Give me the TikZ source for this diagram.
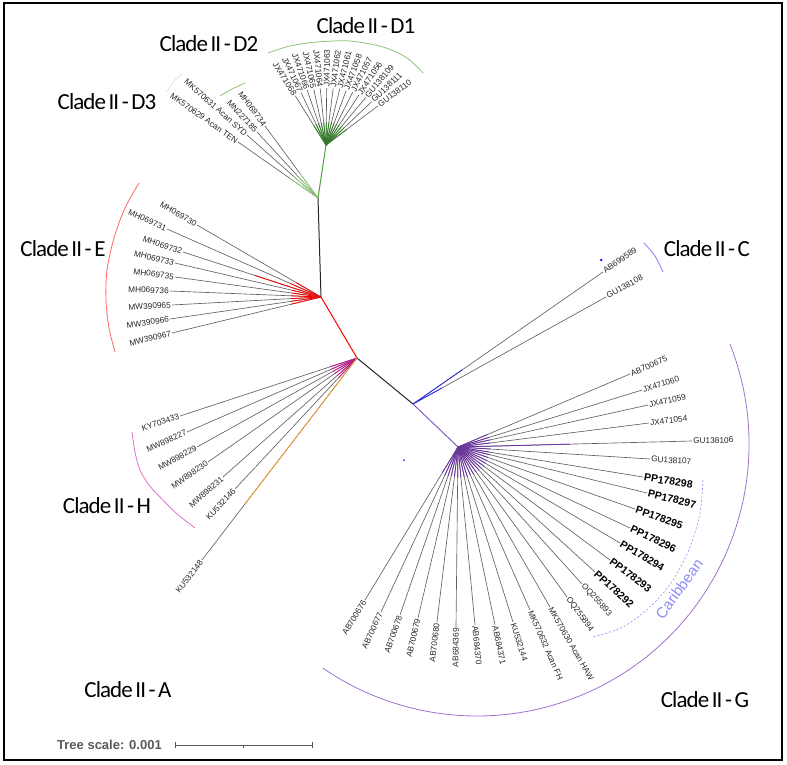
\documentclass[tikz,border=0pt]{standalone}
\usepackage{fontspec}
\setmainfont{Liberation Sans}
\newfontfamily\cladefont[LetterSpace=-4.0, WordSpace=0.6]{Carlito}
\usetikzlibrary{calc}

\definecolor{cD1}{HTML}{2F7D21}
\definecolor{cDstem}{HTML}{4E9E3C}
\definecolor{cDfan}{HTML}{9BD38A}
\definecolor{cDarc}{HTML}{8CC47A}
\definecolor{cDfaint}{HTML}{D5EAD0}
\definecolor{cE}{HTML}{FF0000}
\definecolor{cEarc}{HTML}{FF6666}
\definecolor{cH}{HTML}{C7158C}
\definecolor{cHarc}{HTML}{E070C8}
\definecolor{cA}{HTML}{F0A030}
\definecolor{cC}{HTML}{2A2AF0}
\definecolor{cCarc}{HTML}{8080FF}
\definecolor{cG}{HTML}{6B2FA8}
\definecolor{cGstem}{HTML}{8A5CC8}
\definecolor{cGarc}{HTML}{A070D0}
\definecolor{carib}{HTML}{8C8CF5}

\newcommand{\ppbold}[1]{{\fontsize{10.5}{12}\selectfont\bfseries\color{black}#1}}

% one leaf: hub, tip, colour style, coloured fraction, label
\newcommand{\leaf}[5]{%
  \pgfmathanglebetweenpoints{\pgfpointanchor{#1}{center}}{\pgfpointanchor{#2}{center}}%
  \let\leafang\pgfmathresult
  \pgfmathsetmacro\leafcos{cos(\leafang)}%
  \draw[branch] (#1) -- (#2);
  \draw[#3] (#1) -- ($(#1)!#4!(#2)$);
  \ifdim\leafcos pt<0pt
    \node[tiplab, rotate=\leafang+180, anchor=east] (#2l) at (#2) {#5};
  \else
    \node[tiplab, rotate=\leafang, anchor=west] (#2l) at (#2) {#5};
  \fi}

\begin{document}
\begin{tikzpicture}[x=1pt, y=-1pt,
    branch/.style={draw=black!62, line width=0.65pt},
    tiplab/.style={font=\fontsize{8.3}{9}\selectfont, text=black!85, inner sep=1pt},
    clade/.style={font=\cladefont\fontsize{23}{26}\selectfont, text=black},
    fanD1/.style={draw=cD1, line width=0.8pt},
    fanD/.style={draw=cDfan, line width=0.8pt},
    fanE/.style={draw=cE, line width=0.8pt},
    fanH/.style={draw=cH, line width=0.8pt},
    fanA/.style={draw=cA, line width=0.8pt},
    fanC/.style={draw=cC, line width=0.8pt},
    fanG/.style={draw=cG, line width=0.8pt},
    cladearc/.style={line width=0.8pt}]
\useasboundingbox (0,0) rectangle (787,764);
\draw[line width=2pt] (4,3) rectangle (782,760);

% inner nodes
\coordinate (nD) at (318,198);
\coordinate (nDa) at (326,145);
\coordinate (nE) at (321,297);
\coordinate (nH) at (357,358);
\coordinate (nC) at (413,404);
\coordinate (nG) at (458,447);

\draw[draw=cDstem, line width=1pt] (nD) -- (nDa);
\draw[draw=black!85, line width=1pt] (nD) -- (nE);
\draw[draw=cE, line width=1pt] (nE) -- (nH);
\draw[draw=black!85, line width=1pt] (nH) -- (nC);
\draw[draw=cGstem, line width=1pt] (nC) -- (nG);

% clade II-D1
\foreach \lab/\r [count=\i] in {JX471068/58, JX471067/58, JX471066/58, JX471065/57,
    JX471064/57, JX471063/57, JX471062/57, JX471061/58, JX471058/58, JX471057/59,
    JX471056/60, GU138109/62, GU138111/63, GU138110/65}{
  \pgfmathsetmacro\a{122-6.54*(\i-1)}
  \coordinate (d\i) at ($(nDa)+(\a:\r pt)$);
  \leaf{nDa}{d\i}{fanD1}{.4}{\lab}
}

% clades II-D2 and II-D3
\foreach \tx/\ty/\lab [count=\i] in {265/126/MH069734, 257/132/MN227185,
    247/135/MK570631 Acan SYD, 238/142/MK570629 Acan TEN}{
  \coordinate (dd\i) at (\tx,\ty);
  \leaf{nD}{dd\i}{fanD}{.35}{\lab}
}

% clade II-E
\foreach \tx/\ty/\f/\lab [count=\i] in {197/225/.2/MH069730, 167/229/.2/MH069731,
    183/252/.48/MH069732, 175/263/.2/MH069733, 175/277/.2/MH069735,
    170/291/.2/MH069736, 172/305/.2/MW390965, 170/319/.2/MW390966,
    172/333/.2/MW390967}{
  \coordinate (e\i) at (\tx,\ty);
  \leaf{nE}{e\i}{fanE}{\f}{\lab}
}

% clade II-H and II-A
\foreach \tx/\ty/\lab [count=\i] in {180/416/KY703433, 187/432/MW898227,
    197/447/MW898229, 208/462/MW898230, 223/477/MW898231, 235/489/KU532146}{
  \coordinate (h\i) at (\tx,\ty);
  \leaf{nH}{h\i}{fanH}{.15}{\lab}
}
\coordinate (a1) at (202,560);
\leaf{nH}{a1}{fanA}{.72}{KU532148}

% clade II-C
\coordinate (c1) at (603,272);
\coordinate (c2) at (606,297);
\leaf{nC}{c1}{fanC}{.26}{AB699589}
\leaf{nC}{c2}{fanC}{.15}{GU138108}

% clade II-G
\foreach \tx/\ty/\f/\lab [count=\i] in {630/374/.17/AB700675, 642/390/.17/JX471060,
    648/405/.17/JX471059, 649/423/.17/JX471054, 692/441/.48/GU138106,
    650/459/.17/GU138107, 643/477/.17/\ppbold{PP178298}, 647/493/.17/\ppbold{PP178297},
    635/509/.17/\ppbold{PP178295}, 630/528/.17/\ppbold{PP178296},
    620/543/.17/\ppbold{PP178294}, 610/560/.17/\ppbold{PP178293},
    595/572/.17/\ppbold{PP178292}, 582/584/.17/OQ255893, 567/597/.17/OQ255894,
    550/607/.17/MK570630 Acan HAW, 530/610/.17/MK570632 Acan FH,
    513/622/.17/KU532144, 495/625/.17/AB684371, 475/625/.17/AB684370,
    456/627/.17/AB684369, 437/622/.17/AB700680, 418/618/.17/AB700679,
    400/615/.17/AB700678, 381/612/.17/AB700677, 365/600/.17/AB700676}{
  \coordinate (g\i) at (\tx,\ty);
  \leaf{nG}{g\i}{fanG}{\f}{\lab}
}

% stray dots
\fill[cC] (601,260) circle (1.5);
\fill[cC] (404,460) circle (1);

% clade arcs
\draw[cladearc, cDarc] plot[smooth] coordinates {(268,53) (290,46) (317,42) (350,41) (383,47) (407,58) (423,73)};
\draw[cladearc, cDarc] plot[smooth] coordinates {(220,96) (232,89) (245,83)};
\draw[cladearc, cDfaint] plot[smooth] coordinates {(167,92) (173,82) (183,73)};
\draw[cladearc, cEarc] plot[smooth] coordinates {(139,183) (125,208) (114,238) (107,270) (106,300) (109,328) (115,352)};
\draw[cladearc, cHarc] plot[smooth] coordinates {(132,432) (135,452) (140,470) (149,485) (160,497) (176,513) (195,528)};
\draw[cladearc, cCarc] plot[smooth] coordinates {(644,243) (655,256) (663,272)};
\coordinate (nGc) at (477,444);
\draw[cladearc, cGarc] ($(nGc)+(21.6:272pt)$) arc[start angle=21.6, end angle=-124.5, radius=272pt];
\draw[carib, line width=0.6pt, dash pattern=on 2pt off 2pt] plot[smooth] coordinates {(703,480) (700,513) (690,547) (673,580) (650,607) (623,627) (593,637)};
\node[text=carib, rotate=54, font=\fontsize{15}{18}\selectfont, inner sep=0pt] (caribtxt) at (679,589) {Caribbean};

% clade names
\node[clade] (labD1) at (366,26) {Clade II - D1};
\node[clade] (labD2) at (209,44) {Clade II - D2};
\node[clade] (labD3) at (107,102) {Clade II - D3};
\node[clade] (labE) at (63,249) {Clade II - E};
\node[clade] (labH) at (107,506) {Clade II - H};
\node[clade] (labA) at (128,690) {Clade II - A};
\node[clade] (labC) at (707,249) {Clade II - C};
\node[clade] (labG) at (705,700) {Clade II - G};

% tree scale
\node[font=\fontsize{13}{15}\selectfont\bfseries, text=black!65, anchor=west, inner sep=0pt] (scaletxt) at (57,745) {Tree scale: 0.001};
\coordinate (s0) at (175,745);
\coordinate (s1) at (312,745);
\coordinate (sm) at (243,745);
\draw[black!65, line width=0.8pt] (s0) -- (s1);
\draw[black!65, line width=0.8pt] ($(s0)+(0,-3)$) -- ($(s0)+(0,3)$);
\draw[black!65, line width=0.8pt] ($(s1)+(0,-3)$) -- ($(s1)+(0,3)$);
\draw[black!65, line width=0.6pt] (sm) -- ($(sm)+(0,2.5)$);
\end{tikzpicture}
\end{document}
